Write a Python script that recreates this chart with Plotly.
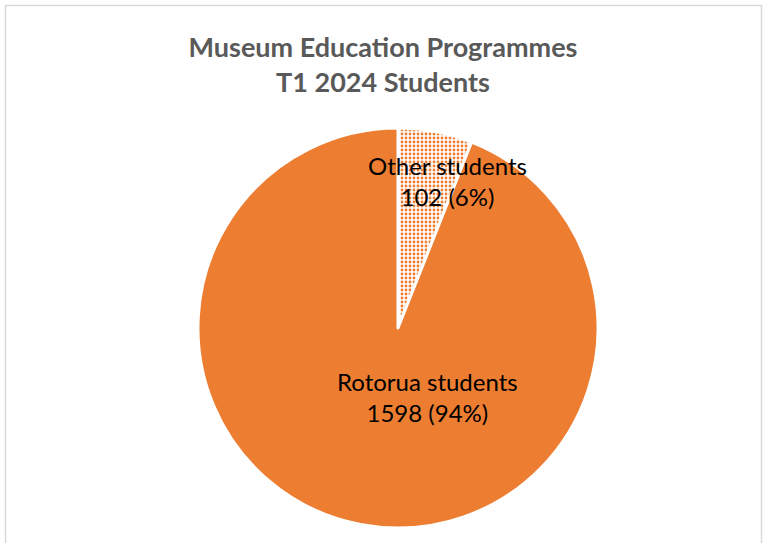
import plotly.graph_objects as go

# Student counts by group, Term 1 2024
groups = ["Other students", "Rotorua students"]
students = [102, 1598]
percent_labels = ["6%", "94%"]

ORANGE = "#ED7D31"
W, H = 763, 543

fig = go.Figure(
    go.Pie(
        labels=groups,
        values=students,
        sort=False,
        direction="clockwise",
        rotation=0,
        textinfo="none",
        hoverinfo="label+value+percent",
        marker=dict(
            colors=[ORANGE, ORANGE],
            line=dict(color="white", width=3),
            pattern=dict(
                shape=[".", ""],
                fgcolor=ORANGE,
                bgcolor="white",
                size=4,
                solidity=0.4,
                fillmode="replace",
            ),
        ),
        domain=dict(x=[198 / W, 598 / W], y=[(H - 528) / H, (H - 128) / H]),
        showlegend=False,
    )
)

# Data labels: name, count and share
label_pos = [(447, 181), (427, 397)]
for name, val, pct, (px, py) in zip(groups, students, percent_labels, label_pos):
    fig.add_annotation(
        x=px / W, y=1 - py / H, xref="paper", yref="paper",
        xanchor="center", yanchor="middle",
        text=f"{name}<br>{val} ({pct})",
        showarrow=False,
        font=dict(family="Lato, Open Sans, sans-serif", size=24, color="black"),
        align="center",
    )

# Chart frame
fig.add_shape(
    type="rect", xref="paper", yref="paper",
    x0=5.5 / W, x1=761.5 / W, y0=-0.05, y1=1 - 5.5 / H,
    line=dict(color="#D9D9D9", width=1.5),
)

fig.update_layout(
    width=W, height=H,
    margin=dict(l=0, r=0, t=0, b=0),
    paper_bgcolor="white",
    title=dict(
        text="<b>Museum Education Programmes<br>T1 2024 Students</b>",
        x=383 / W, xanchor="center",
        y=1 - 57 / H, yanchor="middle",
        font=dict(family="Lato, Open Sans, sans-serif", size=27, color="#595959"),
    ),
)

fig.write_html("out.html")
